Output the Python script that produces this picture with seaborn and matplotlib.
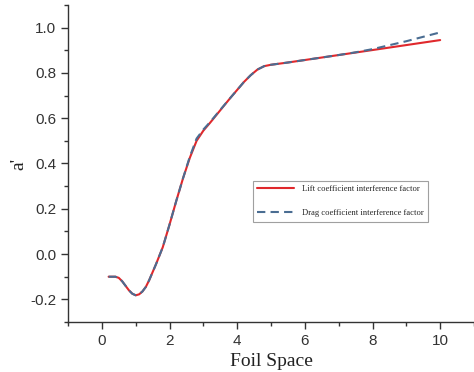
import numpy as np
import pandas as pd
import matplotlib
matplotlib.use("Agg")
import matplotlib.pyplot as plt
from matplotlib.ticker import MultipleLocator
import seaborn as sns

# foil spacing and interference factor a'
foil_space = [0.2, 0.3, 0.4, 0.5, 0.6, 0.7, 0.8, 0.9, 1.0, 1.1, 1.2, 1.3, 1.4,
              1.5, 1.6, 1.8, 2.0, 2.2, 2.4, 2.6, 2.8, 3.0, 3.2, 3.5, 3.8, 4.0,
              4.2, 4.4, 4.6, 4.8, 5.0, 5.5, 6.0, 7.0, 7.5, 8.0, 9.0, 10.0]
lift_a = [-0.100, -0.100, -0.100, -0.105, -0.120, -0.140, -0.160, -0.175,
          -0.182, -0.178, -0.165, -0.145, -0.115, -0.080, -0.045, 0.030,
          0.130, 0.235, 0.335, 0.425, 0.500, 0.545, 0.580, 0.635, 0.690,
          0.725, 0.760, 0.790, 0.815, 0.830, 0.836, 0.846, 0.857, 0.879,
          0.890, 0.901, 0.923, 0.945]
drag_a = [-0.100, -0.100, -0.100, -0.105, -0.120, -0.140, -0.160, -0.175,
          -0.182, -0.178, -0.165, -0.145, -0.115, -0.080, -0.045, 0.030,
          0.130, 0.235, 0.335, 0.430, 0.510, 0.550, 0.583, 0.637, 0.690,
          0.725, 0.760, 0.790, 0.815, 0.830, 0.836, 0.846, 0.857, 0.879,
          0.891, 0.905, 0.940, 0.979]

lift_label = "Lift coefficient interference factor"
drag_label = "Drag coefficient interference factor"

df = pd.DataFrame({
    "x": foil_space * 2,
    "a": lift_a + drag_a,
    "series": [lift_label] * len(foil_space) + [drag_label] * len(foil_space),
})

sns.set_style("ticks")
plt.rcParams["font.family"] = ["Liberation Sans", "DejaVu Sans"]

fig = plt.figure(figsize=(4.74, 3.72), dpi=100)
ax = fig.add_axes([0.1435, 0.1344, 0.8565, 0.8522])

sns.lineplot(data=df, x="x", y="a", hue="series", style="series",
             palette={lift_label: "#e0282c", drag_label: "#4a6d92"},
             dashes={lift_label: "", drag_label: (4, 2.5)},
             linewidth=1.5, ax=ax, sort=False)

ax.set_xlim(-1, 11)
ax.set_ylim(-0.3, 1.1)
ax.xaxis.set_major_locator(MultipleLocator(2))
ax.xaxis.set_minor_locator(MultipleLocator(1))
ax.yaxis.set_major_locator(MultipleLocator(0.2))
ax.yaxis.set_minor_locator(MultipleLocator(0.1))
ax.set_yticks([-0.2, 0.0, 0.2, 0.4, 0.6, 0.8, 1.0])
ax.set_yticklabels(["-0.2", "0.0", "0.2", "0.4", "0.6", "0.8", "1.0"])

for side in ["top", "right"]:
    ax.spines[side].set_visible(False)
for side in ["left", "bottom"]:
    ax.spines[side].set_color("#333333")
    ax.spines[side].set_linewidth(1.0)
ax.tick_params(which="major", length=5, width=1, color="#333333",
               labelsize=11, labelcolor="#333333")
ax.tick_params(which="minor", length=3, width=1, color="#333333")

ax.set_xlabel("Foil Space", family=["Liberation Serif"], fontsize=14,
              color="#222222", labelpad=4)
ax.set_ylabel("a'", family=["Liberation Serif"], fontsize=14,
              color="#222222", labelpad=2)

leg = ax.legend(loc="lower left", bbox_to_anchor=(0.455, 0.317),
                borderaxespad=0,
                prop={"family": "Liberation Serif", "size": 6.1},
                handlelength=4.4, labelspacing=1.9, borderpad=0.5,
                handletextpad=0.9, frameon=True, fancybox=False, title=None)
leg.get_frame().set_edgecolor("#888888")
leg.get_frame().set_linewidth(0.8)

fig.savefig("out.png", dpi=100)
